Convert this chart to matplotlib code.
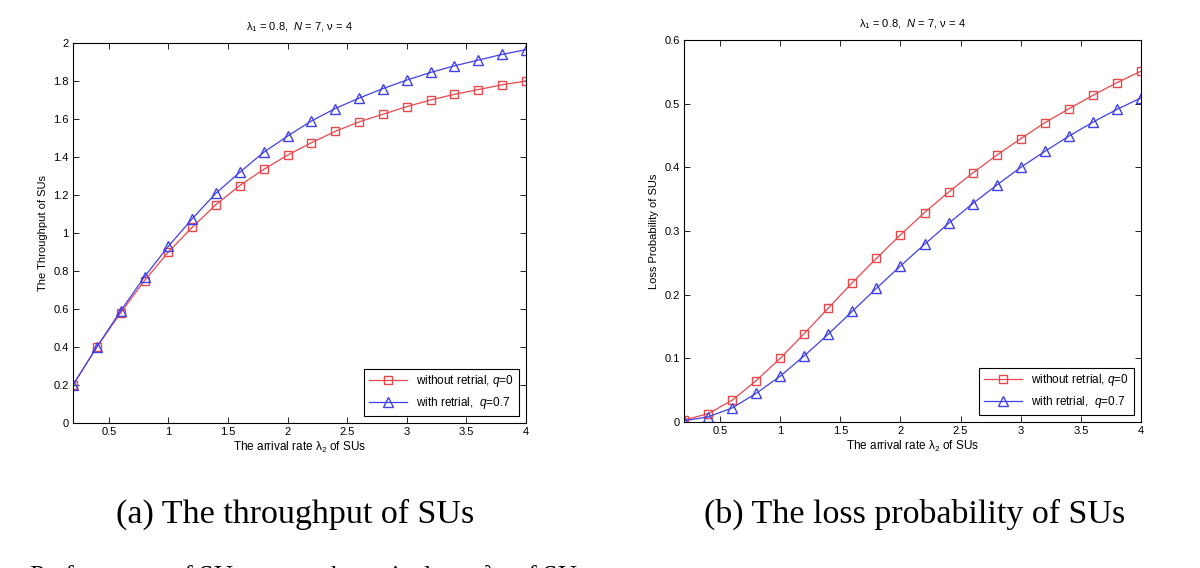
import matplotlib
matplotlib.use('Agg')
import matplotlib.pyplot as plt

plt.rcParams['font.family'] = ['Liberation Sans', 'DejaVu Sans']
plt.rcParams['mathtext.fontset'] = 'custom'
plt.rcParams['mathtext.rm'] = 'Liberation Sans'
plt.rcParams['mathtext.it'] = 'Liberation Sans:italic'

lam2 = [0.2, 0.4, 0.6, 0.8, 1.0, 1.2, 1.4, 1.6, 1.8, 2.0,
        2.2, 2.4, 2.6, 2.8, 3.0, 3.2, 3.4, 3.6, 3.8, 4.0]

thr_noretrial = [0.2, 0.4, 0.58, 0.75, 0.90, 1.03, 1.15, 1.25, 1.335, 1.41,
                 1.475, 1.535, 1.585, 1.625, 1.665, 1.70, 1.73, 1.755, 1.78, 1.80]
thr_retrial = [0.2, 0.4, 0.59, 0.77, 0.93, 1.075, 1.21, 1.32, 1.425, 1.51,
               1.59, 1.655, 1.71, 1.76, 1.805, 1.845, 1.88, 1.91, 1.94, 1.965]

loss_noretrial = [0.003, 0.013, 0.034, 0.065, 0.100, 0.139, 0.179, 0.219, 0.257, 0.294,
                  0.329, 0.361, 0.391, 0.419, 0.445, 0.470, 0.492, 0.513, 0.533, 0.551]
loss_retrial = [0.002, 0.008, 0.022, 0.045, 0.072, 0.104, 0.138, 0.174, 0.210, 0.245,
                0.279, 0.312, 0.343, 0.372, 0.400, 0.425, 0.449, 0.471, 0.491, 0.509]

xticks = [0.5, 1, 1.5, 2, 2.5, 3, 3.5, 4]
yticks_a = [0, 0.2, 0.4, 0.6, 0.8, 1, 1.2, 1.4, 1.6, 1.8, 2]
yticks_b = [0, 0.1, 0.2, 0.3, 0.4, 0.5, 0.6]

title = 'λ$_1$ = 0.8,  $N$ = 7, ν = 4'
lab_red = r'without retrial, $q$=0'
lab_blue = r'with retrial,  $q$=0.7'
red = '#e8484c'
blue = '#4040e8'

fig = plt.figure(figsize=(12, 5.68), dpi=100)
W, H = 1200.0, 568.0
ax1 = fig.add_axes([73 / W, 1 - 423 / H, (526 - 73) / W, (423 - 43) / H])
ax2 = fig.add_axes([684 / W, 1 - 422 / H, (1141 - 684) / W, (422 - 40) / H])


def style(ax, yticks, ylim, ylabel):
    ax.set_xlim(0.2, 4)
    ax.set_ylim(*ylim)
    ax.set_xticks(xticks)
    ax.set_xticklabels(['%g' % t for t in xticks])
    ax.set_yticks(yticks)
    ax.set_yticklabels(['%g' % t for t in yticks])
    ax.tick_params(direction='in', top=True, right=True, labelsize=8, length=4, width=0.6, pad=3)
    for s in ax.spines.values():
        s.set_linewidth(0.8)
    ax.set_xlabel('The arrival rate λ$_2$ of SUs', fontsize=8.5, labelpad=2)
    ax.set_ylabel(ylabel, fontsize=8, labelpad=4)
    ax.set_title(title, fontsize=8, pad=9)
    leg = ax.legend(loc='lower right', fontsize=8.5, fancybox=False, framealpha=1,
                    edgecolor='black', handlelength=3.2, borderaxespad=0.6)
    leg.get_frame().set_linewidth(0.8)


ax1.plot(lam2, thr_noretrial, '-s', color=red, mfc='none', ms=6, lw=0.9, label=lab_red)
ax1.plot(lam2, thr_retrial, '-^', color=blue, mfc='none', ms=7, lw=0.9, label=lab_blue)
style(ax1, yticks_a, (0, 2), 'The Throughput of SUs')

ax2.plot(lam2, loss_noretrial, '-s', color=red, mfc='none', ms=6, lw=0.9, label=lab_red)
ax2.plot(lam2, loss_retrial, '-^', color=blue, mfc='none', ms=7, lw=0.9, label=lab_blue)
style(ax2, yticks_b, (0, 0.6), 'Loss Probability of SUs')

fig.text(295 / W, 1 - 514 / H, '(a) The throughput of SUs', family='Liberation Serif',
         fontsize=24.5, ha='center', va='center')
fig.text(915 / W, 1 - 514 / H, '(b) The loss probability of SUs', family='Liberation Serif',
         fontsize=24.5, ha='center', va='center')
# caption line of the page, cut off at the bottom edge as in the source
fig.text(29 / W, 1 - 577 / H, 'Performance of SUs versus the arrival rate λ$_2$ of SUs',
         family='Liberation Serif', fontsize=19, ha='left', va='center')

fig.savefig('out.png', dpi=100)
